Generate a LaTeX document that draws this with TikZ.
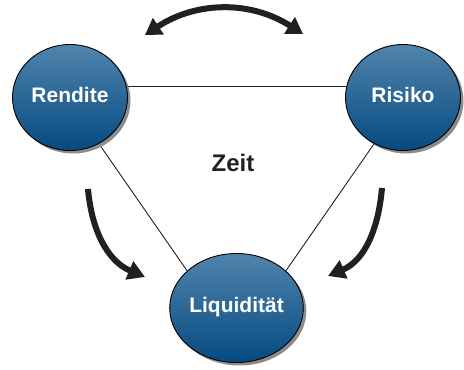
\documentclass[tikz,border=0pt]{standalone}
\usepackage{fontspec}
\setmainfont{Liberation Sans}
\usetikzlibrary{arrows.meta,shadows,backgrounds,shapes.geometric}
\definecolor{circtop}{RGB}{80,132,172}
\definecolor{circbot}{RGB}{6,74,128}
\definecolor{inkdark}{RGB}{35,31,32}
\tikzset{
  bubble/.style={ellipse, draw=black, line width=0.9pt, inner sep=0pt,
    minimum width=115pt, minimum height=106pt,
    top color=circtop, bottom color=circbot,
    text=white, font=\bfseries\fontsize{21}{21}\selectfont,
    text height=15pt, text depth=5pt,
    drop shadow={shadow xshift=3pt, shadow yshift=-3pt, fill=black!45, opacity=1}},
  link/.style={draw=inkdark, line width=0.9pt},
  bigarrow/.style={draw=inkdark, line width=6pt,
    -{Triangle[length=17pt,width=19pt]}},
  bigdouble/.style={draw=inkdark, line width=6pt,
    {Triangle[length=16pt,width=19pt]}-{Triangle[length=16pt,width=19pt]}}
}
\begin{document}
\begin{tikzpicture}[x=1pt,y=1pt]
\useasboundingbox (0,0) rectangle (464,370);
\node[bubble] (R) at (70,272.5) {Rendite};
\node[bubble] (K) at (403,272.5) {Risiko};
\node[bubble, minimum width=116pt, minimum height=109pt] (L) at (236.5,62) {Liquidität};
\node[font=\bfseries\fontsize{24}{24}\selectfont, text=inkdark] (Z) at (233,207.5) {Zeit};
\begin{scope}[on background layer]
\draw[link] (R.11) -- (K.169);
\draw[link] (R.-58) -- (L.143);
\draw[link] (K.-122) -- (L.37);
\end{scope}
\coordinate (ta) at (145,335);
\coordinate (tb) at (303,336);
\coordinate (la) at (88,181);
\coordinate (lb) at (145,93);
\coordinate (ra) at (382,182);
\coordinate (rb) at (328,94);
\draw[bigdouble] (ta) to[bend left=33] (tb);
\draw[bigarrow] (la) to[out=-85,in=157] (lb);
\draw[bigarrow] (ra) to[out=-95,in=23] (rb);
\end{tikzpicture}
\end{document}
